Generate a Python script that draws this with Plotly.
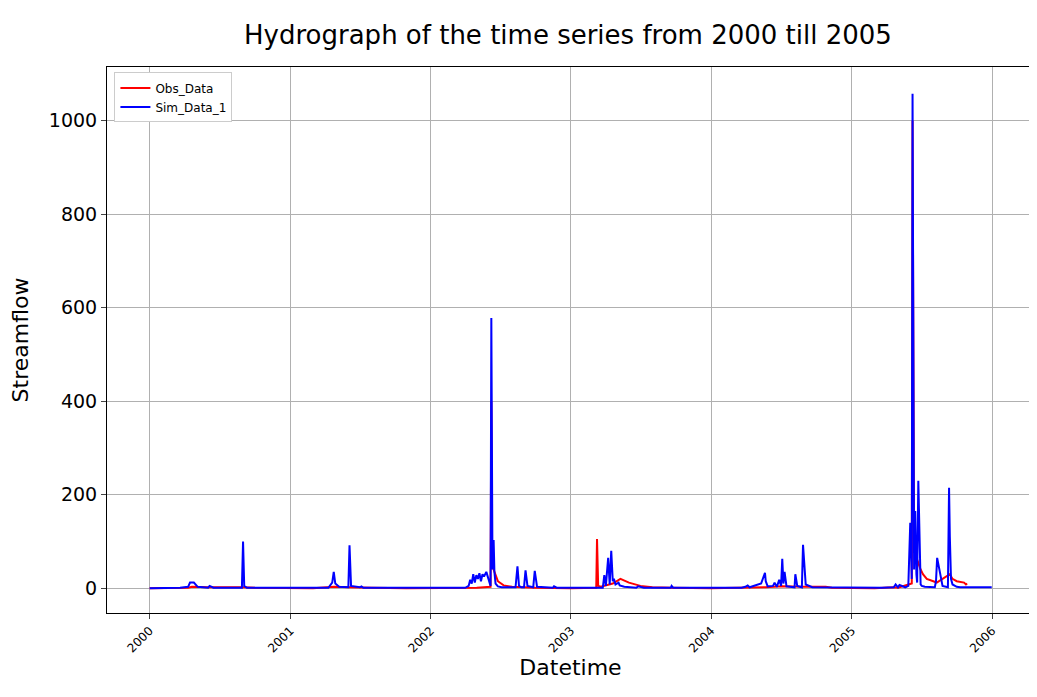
import plotly.graph_objects as go

sim_dates = ["2000-01-01","2000-03-20","2000-04-10","2000-04-15","2000-04-25","2000-05-05","2000-06-01","2000-06-05","2000-06-15","2000-08-28","2000-08-31","2000-09-03","2000-09-10","2001-04-10","2001-04-20","2001-04-24","2001-04-28","2001-05-08","2001-06-01","2001-06-04","2001-06-08","2001-07-01","2001-07-05","2001-07-10",
"2002-04-01","2002-04-10","2002-04-14","2002-04-18","2002-04-22","2002-04-26","2002-04-30","2002-05-04","2002-05-08","2002-05-12","2002-05-16","2002-05-20","2002-05-26","2002-06-06","2002-06-08","2002-06-11","2002-06-14","2002-06-16","2002-06-19","2002-06-25","2002-07-05","2002-08-10","2002-08-15","2002-08-19","2002-08-25","2002-09-01","2002-09-05","2002-09-10","2002-09-25","2002-09-29","2002-10-05","2002-11-15","2002-11-18","2002-11-25",
"2003-03-25","2003-03-29","2003-04-02","2003-04-08","2003-04-12","2003-04-16","2003-04-20","2003-04-23","2003-04-27","2003-05-05","2003-05-08","2003-05-20","2003-06-20","2003-06-25","2003-07-10","2003-09-18","2003-09-20","2003-09-24",
"2004-03-20","2004-03-30","2004-04-05","2004-04-10","2004-05-10","2004-05-20","2004-05-22","2004-05-27","2004-06-10","2004-06-14","2004-06-20","2004-06-26","2004-07-01","2004-07-04","2004-07-07","2004-07-10","2004-07-15","2004-08-05","2004-08-07","2004-08-12","2004-08-24","2004-08-27","2004-09-03","2004-09-20",
"2005-03-20","2005-04-20","2005-04-25","2005-05-01","2005-05-05","2005-05-20","2005-05-28","2005-06-02","2005-06-06","2005-06-08","2005-06-12","2005-06-15","2005-06-18","2005-06-20","2005-06-23","2005-06-27","2005-06-29","2005-07-02","2005-07-10","2005-08-05","2005-08-08","2005-08-11","2005-08-25","2005-09-08","2005-09-11","2005-09-13","2005-09-16","2005-09-20","2005-10-01","2005-10-10","2005-12-31"]
sim_vals = [0,1,3,12,12,3,1,5,1,1,100,5,1,1,12,35,10,3,2,92,5,2,4,1,
1,5,18,10,30,12,28,20,32,15,30,25,35,5,578,40,103,35,10,4,2,2,47,5,2,2,38,5,2,37,3,1,4,1,
1,28,5,65,8,80,15,20,8,12,6,3,1,4,1,1,5,1,
1,3,6,2,10,33,15,4,5,12,3,18,5,63,10,35,4,2,30,5,2,93,8,2,
1,2,8,2,7,2,5,140,20,1058,40,165,30,12,230,25,8,5,3,2,15,65,5,2,215,110,20,8,3,2,2]

obs_dates = ["2000-01-01","2000-04-10","2000-04-20","2000-06-01","2000-08-30","2000-08-31","2000-09-05","2000-10-01","2001-03-01","2001-04-25","2001-06-04","2001-07-01","2001-08-01","2001-10-30","2002-01-01","2002-05-01","2002-06-06","2002-06-08","2002-06-10","2002-06-14","2002-06-25","2002-07-10","2002-08-01","2002-10-01","2003-01-01","2003-03-08","2003-03-10","2003-03-13","2003-03-20","2003-04-20","2003-05-10","2003-06-01","2003-07-01","2003-08-01","2003-09-20","2004-01-01","2004-05-22","2004-07-04","2004-08-27","2004-09-10","2004-10-01","2004-10-25","2004-11-10","2005-03-01","2005-04-20","2005-05-01","2005-06-06","2005-06-08","2005-06-12","2005-06-20","2005-06-29","2005-07-05","2005-07-15","2005-08-01","2005-08-10","2005-09-13","2005-09-20","2005-10-01","2005-10-20","2005-10-25","2005-10-28"]
obs_vals = [0,1,3,2,2,2,1,1,0,3,2,1,1,0,0,1,3,400,60,40,15,6,3,1,0,1,105,5,3,10,20,12,5,2,1,0,2,4,3,3,2,3,1,0,2,1,10,1000,80,60,40,30,20,15,12,30,20,15,12,8,10]

fig = go.Figure()
fig.add_trace(go.Scatter(x=obs_dates, y=obs_vals, mode="lines", name="Obs_Data", line=dict(color="red", width=2)))
fig.add_trace(go.Scatter(x=sim_dates, y=sim_vals, mode="lines", name="Sim_Data_1", line=dict(color="blue", width=2)))

fig.update_layout(
    width=1037, height=697, plot_bgcolor="white", paper_bgcolor="white",
    margin=dict(l=89, r=10, t=59, b=92),
    font=dict(family="DejaVu Sans", color="black"),
    title=dict(text="Hydrograph of the time series from 2000 till 2005", x=0.54, xanchor="center", y=0.975, font=dict(size=26)),
    legend=dict(x=0.008, y=0.99, xanchor="left", yanchor="top", bordercolor="#ccc", borderwidth=1, font=dict(size=12), bgcolor="white"),
    xaxis=dict(title=dict(text="Datetime", font=dict(size=22), standoff=5), range=["1999-09-12", "2006-04-20"],
               tickvals=["2000-01-01","2001-01-01","2002-01-01","2003-01-01","2004-01-01","2005-01-01","2006-01-01"],
               ticktext=["2000","2001","2002","2003","2004","2005","2006"], tickangle=-45, tickfont=dict(size=12),
               showgrid=True, gridcolor="#b0b0b0", showline=True, linecolor="black", mirror=True, ticks="outside", zeroline=False),
    yaxis=dict(title=dict(text="Streamflow", font=dict(size=22)), range=[-53, 1115], tickvals=[0,200,400,600,800,1000],
               tickfont=dict(size=19), showgrid=True, gridcolor="#b0b0b0", showline=True, linecolor="black", mirror=True,
               ticks="outside", zeroline=False),
)
fig.write_html("out.html")
